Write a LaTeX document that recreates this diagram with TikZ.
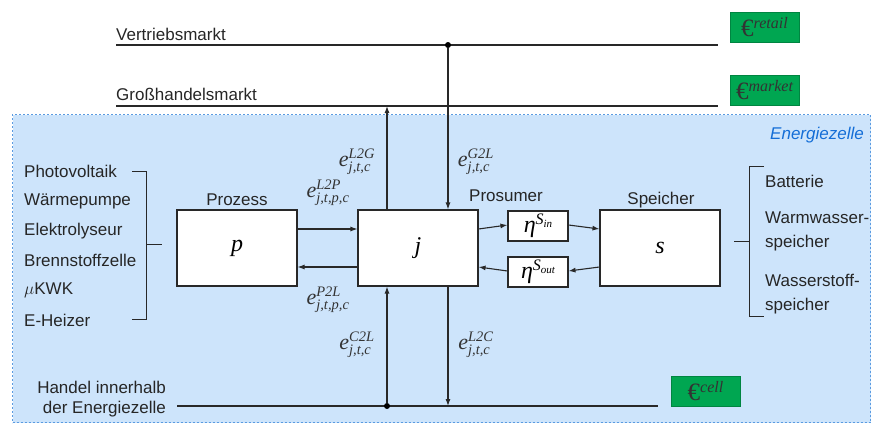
\documentclass[tikz,border=0pt]{standalone}
\usepackage{fontspec}
\setmainfont{Liberation Sans}
\newfontfamily\serif{Liberation Serif}
\usetikzlibrary{arrows.meta}
\definecolor{cellblue}{RGB}{205,228,251}
\definecolor{cellborder}{RGB}{90,155,225}
\definecolor{cellgreen}{RGB}{0,166,81}
\definecolor{linegray}{RGB}{40,40,40}
\definecolor{titleblue}{RGB}{20,110,215}
\newcommand\smallit[1]{\hbox{\serif\itshape\fontsize{14.5}{14.5}\selectfont #1}}
\newcommand\lab[3]{{\fontsize{22}{22}\selectfont{\serif\itshape #1}$^{\smallit{#2}}_{\smallit{#3}}$}}
\newcommand\eur[1]{{\serif\fontsize{25}{25}\selectfont €}\raisebox{8pt}{\serif\itshape\fontsize{16}{16}\selectfont #1}}
\newcommand\etab[1]{{\serif\itshape\fontsize{24}{24}\selectfont η}\raisebox{8pt}{\serif\itshape\fontsize{16}{16}\selectfont S\raisebox{-3pt}{\fontsize{11}{11}\selectfont #1}}}
\begin{document}
\begin{tikzpicture}[x=1pt,y=-1pt,
  txt/.style={inner sep=0pt,font=\fontsize{17}{21}\selectfont,text=black!85},
  ln/.style={draw=linegray,line width=1.1pt},
  arr/.style={ln,-{Latex[length=7pt,width=5pt]}},
  blk/.style={draw=linegray,line width=1.1pt,fill=white,inner sep=0pt},
  gbox/.style={draw=cellgreen!80!black,line width=0.4pt,fill=cellgreen,minimum width=69pt,minimum height=30pt,inner sep=0pt,text=black!80},
  dot/.style={circle,fill=black,inner sep=0pt,minimum size=6pt},
  lbl/.style={inner sep=0pt,text=black!80}]
\useasboundingbox (0,0) rectangle (876,426);

% energy cell background
\node[draw=cellborder,dashed,dash pattern=on 2pt off 2pt,line width=1pt,fill=cellblue,minimum width=858pt,minimum height=308pt,inner sep=0pt,anchor=north west] (cell) at (12,114) {};
\node[txt,anchor=base east,text=titleblue,font=\fontsize{17}{21}\selectfont\itshape] (celltitle) at (864,139) {Energiezelle};

% market lines
\node[txt,anchor=base west] (vm) at (116,40.5) {Vertriebsmarkt};
\node[txt,anchor=base west] (gm) at (116,100.5) {Großhandelsmarkt};
\coordinate (v1) at (116,45);
\coordinate (v2) at (718,45);
\coordinate (g1) at (116,106);
\coordinate (g2) at (718,106);
\draw[ln] (v1) -- (v2);
\draw[ln] (g1) -- (g2);
\node[dot] (vdot) at (448,45) {};

\node[gbox] (retail) at (764.5,27) {\eur{retail}};
\node[gbox] (market) at (764.5,90) {\eur{market}};
\node[gbox] (cellp) at (705.5,391.5) {\eur{cell}};

% blocks
\node[blk,minimum width=120pt,minimum height=76pt] (p) at (237,248) {\serif\itshape\fontsize{24}{24}\selectfont p};
\node[blk,minimum width=120pt,minimum height=76pt] (j) at (418,248) {\serif\itshape\fontsize{24}{24}\selectfont j};
\node[blk,minimum width=120pt,minimum height=76pt] (s) at (660,248) {\serif\itshape\fontsize{24}{24}\selectfont s};
\node[blk,minimum width=60pt,minimum height=30pt] (ein) at (538,226) {\etab{in}};
\node[blk,minimum width=60pt,minimum height=30pt] (eout) at (538,272) {\etab{out}};

\node[txt] (prozess) at (237,200) {Prozess};
\node[txt] (prosumer) at (506,196) {Prosumer};
\node[txt] (speicher) at (661,200) {Speicher};

% flows between p and j, j and storage
\draw[arr] ([yshift=19pt]p.east) -- ([yshift=19pt]j.west);
\draw[arr] ([yshift=-19pt]j.west) -- ([yshift=-19pt]p.east);
\draw[arr] ([yshift=19pt]j.east) -- ([yshift=1pt]ein.west);
\draw[arr] ([yshift=1pt]ein.east) -- ([yshift=19pt]s.west);
\draw[arr] ([yshift=-19pt]s.west) -- ([yshift=1pt]eout.east);
\draw[arr] ([yshift=1pt]eout.west) -- ([yshift=-19pt]j.east);

% market flows
\coordinate (jg) at (387,106);
\draw[arr] (j.north-|jg) -- (jg);
\draw[arr] (vdot) -- (vdot|-j.north);

% cell trading line
\coordinate (c1) at (177,406);
\coordinate (c2) at (658,406);
\draw[ln] (c1) -- (c2);
\node[dot] (cdot) at (387,406) {};
\draw[arr] (cdot) -- (cdot|-j.south);
\coordinate (lc) at (448,406);
\draw[arr] (j.south-|lc) -- (lc);
\node[txt,align=right,anchor=east,font=\fontsize{17}{20}\selectfont] (handel) at (166,399) {Handel innerhalb\\der Energiezelle};

% labels
\node[lbl] (lL2G) at (357,162) {\lab{e}{L2G}{j,t,c}};
\node[lbl] (lG2L) at (476,162) {\lab{e}{G2L}{j,t,c}};
\node[lbl] (lL2P) at (328,193) {\lab{e}{L2P}{j,t,p,c}};
\node[lbl] (lP2L) at (328,300) {\lab{e}{P2L}{j,t,p,c}};
\node[lbl] (lC2L) at (357,345) {\lab{e}{C2L}{j,t,c}};
\node[lbl] (lL2C) at (476,345) {\lab{e}{L2C}{j,t,c}};

% left list
\foreach \t/\yy [count=\i] in {Photovoltaik/171,Wärmepumpe/201,Elektrolyseur/231,Brennstoffzelle/260,$\mu$KWK/290,E-Heizer/320}
  \node[txt,anchor=west] (l\i) at (24,\yy) {\t};
\coordinate (lb1) at (132,171);
\coordinate (lb2) at (146,171);
\coordinate (lb3) at (146,319);
\coordinate (lb4) at (132,319);
\coordinate (lbm) at (146,244);
\coordinate (lbt) at (162,244);
\draw[ln,line width=0.9pt] (lb1) -- (lb2) -- (lb3) -- (lb4);
\draw[ln,line width=0.9pt] (lbm) -- (lbt);

% right list
\node[txt,anchor=west] (r1) at (765,181) {Batterie};
\node[txt,anchor=west,align=left,font=\fontsize{17}{24}\selectfont] (r2) at (765,231) {Warmwasser-\\speicher};
\node[txt,anchor=west,align=left,font=\fontsize{17}{24}\selectfont] (r3) at (765,294) {Wasserstoff-\\speicher};
\coordinate (rb1) at (764,166);
\coordinate (rb2) at (749,166);
\coordinate (rb3) at (749,316);
\coordinate (rb4) at (764,316);
\coordinate (rbm) at (749,241);
\coordinate (rbt) at (734,241);
\draw[ln,line width=0.9pt] (rb1) -- (rb2) -- (rb3) -- (rb4);
\draw[ln,line width=0.9pt] (rbm) -- (rbt);
\end{tikzpicture}
\end{document}
